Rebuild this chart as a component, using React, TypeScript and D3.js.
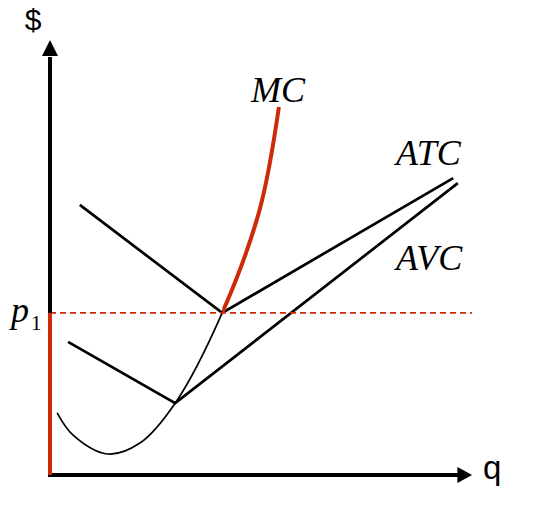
import * as d3 from 'd3';

const W = 543;
const H = 510;

// q and $ in chart units (0..10 on both axes)
const mcQ = [0.17, 0.55, 1.38, 2.14, 2.98, 4.1, 4.99, 5.45];
const mcP = [1.48, 0.95, 0.5, 0.76, 1.71, 3.86, 6.31, 8.76];
const atcQ = [0.71, 4.1, 9.6];
const atcP = [6.43, 3.86, 7.07];
const avcQ = [0.43, 2.98, 9.71];
const avcP = [3.17, 1.71, 6.95];
const p1 = 3.86;
const qStar = 4.1;

const RED = '#cc2a0a';

export default function App() {
  const x = d3.scaleLinear().domain([0, 10]).range([50, 470]);
  const y = d3.scaleLinear().domain([0, 10]).range([475, 55]);

  const line = d3.line<[number, number]>()
    .x(d => x(d[0]))
    .y(d => y(d[1]));
  const smooth = d3.line<[number, number]>()
    .x(d => x(d[0]))
    .y(d => y(d[1]))
    .curve(d3.curveCatmullRom.alpha(0.5));

  const mc = mcQ.map((q, i) => [q, mcP[i]] as [number, number]);
  const atc = atcQ.map((q, i) => [q, atcP[i]] as [number, number]);
  const avc = avcQ.map((q, i) => [q, avcP[i]] as [number, number]);

  const x0 = x(0);
  const y0 = y(0);
  const serif = '"Liberation Serif", "Times New Roman", serif';
  const sans = '"Liberation Sans", Arial, sans-serif';

  return (
    <svg width={W} height={H} style={{ position: 'absolute', left: 0, top: 0, background: '#fff' }}>
      <defs>
        <clipPath id="upper">
          <rect x={x(qStar)} y={0} width={W} height={y(p1) + 1} />
        </clipPath>
      </defs>

      {/* cost curves */}
      <path d={line(atc) ?? ''} fill="none" stroke="#000" strokeWidth={2.7} />
      <path d={line(avc) ?? ''} fill="none" stroke="#000" strokeWidth={2.7} />
      <path d={smooth(mc) ?? ''} fill="none" stroke="#000" strokeWidth={1.7} />
      <path d={smooth(mc) ?? ''} fill="none" stroke={RED} strokeWidth={4} clipPath="url(#upper)" strokeLinecap="butt" />

      {/* price line */}
      <line x1={x0} x2={x(10.05)} y1={y(p1)} y2={y(p1)} stroke={RED} strokeWidth={1.6} strokeDasharray="6 4" />

      {/* axes */}
      <line x1={x0} x2={x0} y1={y0 + 2} y2={y(10) + 2} stroke="#000" strokeWidth={4} />
      <line x1={x0 - 2} x2={x(9.8)} y1={y0} y2={y0} stroke="#000" strokeWidth={4} />
      <line x1={x0} x2={x0} y1={y0} y2={y(p1)} stroke={RED} strokeWidth={4} />
      <path d={`M${x0},${y(10) - 15} L${x0 - 8},${y(10) + 1} L${x0 + 8},${y(10) + 1} Z`} fill="#000" />
      <path d={`M${x(10.05)},${y0} L${x(9.7)},${y0 - 8} L${x(9.7)},${y0 + 8} Z`} fill="#000" />

      {/* labels */}
      <text x={x0 - 17} y={30} fontFamily={sans} fontSize={30} textAnchor="middle">$</text>
      <text x={x(10.05) + 11} y={y0 + 4} fontFamily={sans} fontSize={33}>q</text>
      <text x={11} y={y(p1) + 9} fontFamily={serif} fontSize={36} fontStyle="italic">p</text>
      <text x={31} y={y(p1) + 17} fontFamily={serif} fontSize={21}>1</text>
      <text x={251} y={102} fontFamily={serif} fontSize={36} fontStyle="italic">MC</text>
      <text x={396} y={165} fontFamily={serif} fontSize={36} fontStyle="italic">ATC</text>
      <text x={396} y={270} fontFamily={serif} fontSize={36} fontStyle="italic">AVC</text>
    </svg>
  );
}
